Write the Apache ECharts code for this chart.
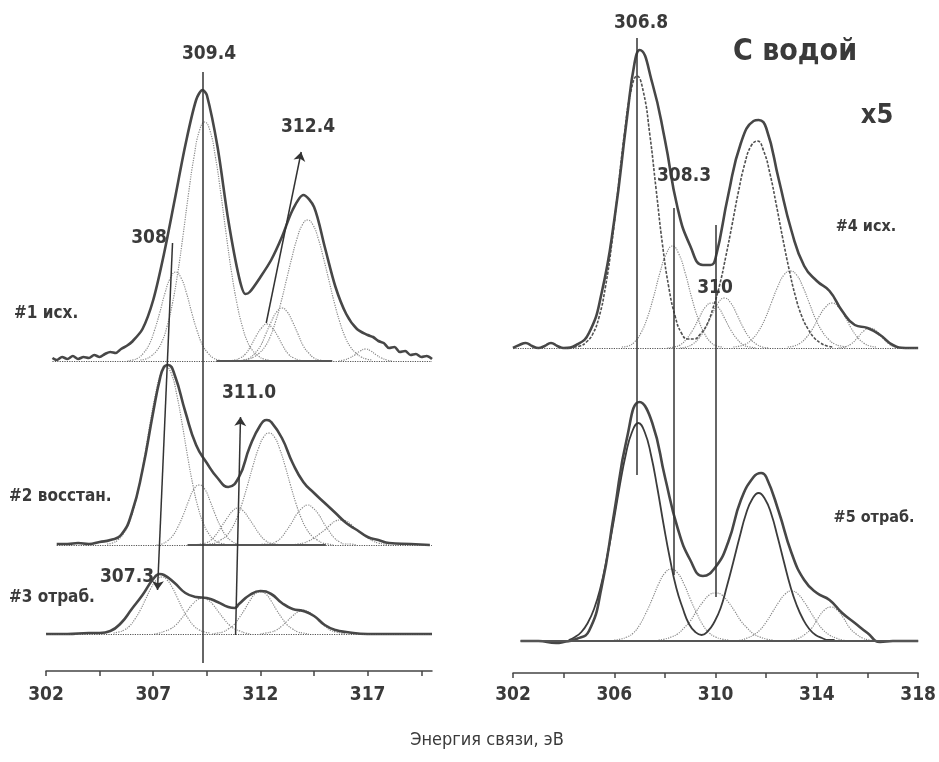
<!DOCTYPE html>
<html>
<head>
<meta charset="utf-8">
<script src="https://cdn.jsdelivr.net/npm/echarts@6/dist/echarts.min.js"></script>
<style>
  html, body { margin: 0; background: #fff; }
  #chart { width: 939px; height: 762px; }
</style>
</head>
<body>
<div id="chart"></div>
<script>
// binding energy, eV -> intensity above the spectrum's own baseline (arb. units)
const env1 = [[302.3,3],[302.5,1],[302.75,4],[303,2],[303.25,5],[303.5,2],[303.75,4],[304,3],[304.25,6],[304.5,4],[304.75,7],[305,9],[305.25,8],[305.5,12],[305.75,15],[306,19],[306.5,32],[307,61],[307.5,107],[308,161],[308.5,216],[309,261],[309.3,271],[309.5,266],[310,214],[310.5,141],[311,84],[311.3,67],[311.5,69],[312,84],[312.5,101],[313,124],[313.5,151],[314,166],[314.5,154],[315,114],[315.5,74],[316,47],[316.5,32],[317,26],[317.25,24],[317.5,20],[317.75,18],[318,13],[318.25,14],[318.5,9],[318.75,10],[319,6],[319.25,7],[319.5,4],[319.75,5],[320,2]];
const env2 = [[302.5,1],[303,1],[303.5,2],[304,1],[304.5,3],[305,5],[305.5,10],[306,32],[306.5,75],[307,133],[307.3,165],[307.5,178],[307.7,180],[308,170],[308.5,133],[309,100],[309.5,82],[310,67],[310.5,58],[311,68],[311.5,98],[312,120],[312.3,125],[312.5,123],[313,107],[313.5,82],[314,63],[314.5,52],[315,42],[315.5,32],[316,22],[316.5,15],[317,8],[317.5,5],[318,2],[319,1],[319.9,0]];
const env3 = [[302,0],[303,0],[304,1],[304.5,1],[305,3],[305.5,11],[306,25],[306.5,39],[307,55],[307.3,60],[307.5,59],[308,51],[308.5,41],[309,37],[309.5,36],[310,32],[310.5,27],[310.8,26],[311,30],[311.5,39],[312,43],[312.5,40],[313,31],[313.5,25],[314,23],[314.5,18],[315,9],[315.5,4],[316,2],[317,0],[320,0]];
const env4 = [[302,0],[302.25,3],[302.5,5],[302.75,2],[303,0],[303.25,2],[303.5,5],[303.75,2],[304,0],[304.5,3],[305,15],[305.5,55],[306,128],[306.5,230],[306.8,285],[307,298],[307.5,265],[308,208],[308.5,140],[309,102],[309.5,83],[309.8,83],[310,90],[310.5,153],[311,205],[311.5,227],[311.7,228],[312,220],[312.5,168],[313,117],[313.5,82],[314,67],[314.5,57],[315,37],[315.5,23],[316,20],[316.5,13],[317,3],[317.5,0],[318,0]];
const env5 = [[302.3,0],[303,0],[303.7,-2],[304,-1],[304.5,2],[305,10],[305.5,54],[306,129],[306.5,203],[307,239],[307.5,218],[308,164],[308.5,113],[309,81],[309.5,65],[310,74],[310.5,99],[311,141],[311.5,164],[311.8,168],[312,164],[312.5,129],[313,88],[313.5,61],[314,48],[314.5,41],[315,28],[315.5,18],[316,8],[316.5,-1],[317,0],[318,0]];

// fitted components: [first eV, intensities every 0.25 eV]
const STEP = 0.25;
const comp1 = [
  [305.8, [0,1,3,8,16,30,48,68,83,89,83,68,48,30,16,8,3,1,0]],
  [306.4, [1,2,5,10,19,35,58,89,127,168,204,230,239,230,204,168,127,89,58,35,19,10,5,2,1]],
  [310.55, [0,1,3,7,15,25,33,37,33,25,15,7,3,1,0]],
  [311.0, [0,1,3,8,15,27,39,49,53,49,39,27,15,8,3,1,0]],
  [311.2, [1,2,4,8,14,24,39,58,80,102,122,136,141,136,122,102,80,58,39,24,14,8,4,2,1]],
  [315.65, [0,1,3,6,10,12,10,6,3,1,0]]
];
const comp2 = [
  [304.85, [1,2,5,11,21,37,60,89,121,150,171,178,171,150,121,89,60,37,21,11,5,2,1]],
  [307.15, [0,1,4,9,18,30,44,56,60,56,44,30,18,9,4,1,0]],
  [308.95, [0,1,2,5,11,19,27,34,37,34,27,19,11,5,2,1,0]],
  [309.4, [0,1,2,5,9,16,27,42,60,79,96,108,112,108,96,79,60,42,27,16,9,5,2,1,0]],
  [311.95, [0,1,1,3,7,14,22,31,37,40,37,31,22,14,7,3,1,1,0]],
  [313.5, [0,1,2,4,7,11,15,20,24,25,24,20,15,11,7,4,2,1,0]]
];
const comp3 = [
  [305.15, [1,2,4,8,15,24,35,46,54,57,54,46,35,24,15,8,4,2,1]],
  [307.05, [0,1,3,5,9,15,22,29,34,36,34,29,22,15,9,5,3,1,0]],
  [309.75, [0,1,2,5,9,16,24,33,40,42,40,33,24,16,9,5,2,1,0]],
  [312.0, [0,1,2,4,8,13,18,22,24,22,18,13,8,4,2,1,0]]
];
const main4 = [304.4, [1,2,6,14,31,61,104,159,214,256,272,256,214,159,104,61,32,15,9,9,14,23,40,62,91,123,156,184,202,207,197,174,143,110,79,52,32,19,10,5,2,1]];
const comp4 = [
  [306.3, [1,2,6,15,30,51,75,94,102,94,75,51,30,15,6,2,1]],
  [308.1, [0,1,3,9,18,30,41,45,41,30,18,9,3,1,0]],
  [308.6, [0,1,4,10,20,33,45,50,45,33,20,10,4,1,0]],
  [310.7, [1,2,4,9,17,29,45,61,73,77,73,61,45,29,17,9,4,2,1]],
  [312.85, [1,2,5,11,20,32,41,45,41,32,20,11,5,2,1]],
  [314.85, [0,1,4,10,17,20,17,10,4,1,0]]
];
const main5 = [304.2, [1,4,9,18,32,53,82,116,153,186,209,218,209,186,153,116,82,53,33,17,9,6,10,19,33,55,79,104,127,142,148,142,127,104,79,55,36,22,12,6,3,1,1]];
const comp5 = [
  [306.0, [1,2,4,8,16,28,42,57,68,72,68,57,42,28,16,8,4,2,1]],
  [307.75, [1,2,4,7,13,20,30,39,46,48,46,39,30,20,13,7,4,2,1]],
  [310.75, [0,1,3,6,11,19,29,39,47,50,47,39,29,19,11,6,3,1,0]],
  [312.8, [0,1,3,7,13,23,31,34,31,23,13,7,3,1,0]]
];

// axis ticks and labels
const leftTicks = [302, 304.5, 307, 309.5, 312, 314.5, 317, 319.5];
const leftLabels = [302, 307, 312, 317];
const rightTicks = [302, 304, 306, 308, 310, 312, 314, 316, 318];
const rightLabels = [302, 306, 310, 314, 318];

// vertical offsets of the stacked spectra (layout)
const OFF = { s1: 310, s2: 126, s3: 37, s4: 325, s5: 32 };

const NARROW = "'Liberation Sans Narrow', 'Arial Narrow', 'DejaVu Sans Condensed', 'Liberation Sans', sans-serif";
const INK = '#3a3a3a';

function shift(pairs, off) {
  return pairs.map(p => [p[0], p[1] + off]);
}
function fromSteps(c, off) {
  return c[1].map((h, i) => [+(c[0] + i * STEP).toFixed(2), h + off]);
}
function line(grid, data, style, z, extra) {
  return Object.assign({
    type: 'line', xAxisIndex: grid, yAxisIndex: grid, data: data,
    smooth: true, showSymbol: false, silent: true, z: z,
    lineStyle: style
  }, extra || {});
}

const dotted = { color: '#8a8a8a', width: 1.2, type: 'dotted' };
const envStyle = { color: '#474747', width: 2.6 };

function baseLine(x1, x2, y, type, w) {
  return [{ coord: [x1, y], lineStyle: { type: type, width: w, color: '#555' } }, { coord: [x2, y] }];
}

const series = [];
comp1.forEach(c => series.push(line(0, fromSteps(c, OFF.s1), dotted, 2)));
comp2.forEach(c => series.push(line(0, fromSteps(c, OFF.s2), dotted, 2)));
comp3.forEach(c => series.push(line(0, fromSteps(c, OFF.s3), dotted, 2)));
comp4.forEach(c => series.push(line(1, fromSteps(c, OFF.s4), dotted, 2)));
comp5.forEach(c => series.push(line(1, fromSteps(c, OFF.s5), dotted, 2)));
series.push(line(1, fromSteps(main4, OFF.s4), { color: '#505050', width: 1.6, type: [3, 1.5] }, 3));
series.push(line(1, fromSteps(main5, OFF.s5), { color: '#3c3c3c', width: 1.8 }, 3));

series.push(line(0, shift(env1, OFF.s1), envStyle, 4, { smooth: 0.3 }));
series.push(line(0, shift(env2, OFF.s2), envStyle, 4));
series.push(line(0, shift(env3, OFF.s3), envStyle, 4));
series.push(line(1, shift(env4, OFF.s4), envStyle, 4));
series.push(line(1, shift(env5, OFF.s5), envStyle, 4));

const mlCommon = { silent: true, symbol: ['none', 'none'], symbolSize: 9, label: { show: false },
  lineStyle: { color: '#333', width: 1.5, type: 'solid' }, emphasis: { disabled: true }, animation: false };
const arrowEnd = (x, y) => ({ coord: [x, y], symbol: 'arrow' });

// baselines and guide lines, left panel
series.push({
  type: 'line', xAxisIndex: 0, yAxisIndex: 0, data: [], z: 5,
  markLine: Object.assign({}, mlCommon, {
    data: [
      baseLine(302.3, 320, OFF.s1, 'dotted', 1.2),
      baseLine(309.95, 315.35, OFF.s1, 'solid', 2),
      baseLine(302.5, 320, OFF.s2, 'dotted', 1.2),
      baseLine(308.6, 315.05, OFF.s2, 'solid', 2),
      baseLine(302, 320, OFF.s3, 'dotted', 1.2),
      [{ coord: [309.3, 599] }, { coord: [309.3, 8] }],
      [{ coord: [307.9, 428] }, arrowEnd(307.2, 81)],
      [{ coord: [312.27, 348] }, arrowEnd(313.9, 519)],
      [{ coord: [310.84, 36] }, arrowEnd(311.07, 254)]
    ]
  })
});
// baselines and guide lines, right panel
series.push({
  type: 'line', xAxisIndex: 1, yAxisIndex: 1, data: [], z: 5,
  markLine: Object.assign({}, mlCommon, {
    data: [
      baseLine(302, 318, OFF.s4, 'dotted', 1.2),
      baseLine(302.3, 318, OFF.s5, 'solid', 2),
      [{ coord: [306.9, 635] }, { coord: [306.9, 198] }],
      [{ coord: [308.34, 465] }, { coord: [308.34, 98] }],
      [{ coord: [310.02, 448] }, { coord: [310.02, 76] }]
    ]
  })
});

function xAxis(grid, max, ticks, labels, margin) {
  return {
    gridIndex: grid, type: 'value', min: 302, max: max,
    axisLine: { lineStyle: { color: '#444', width: 1.5 } },
    axisTick: { customValues: ticks, length: 5, lineStyle: { color: '#444', width: 1.5 } },
    axisLabel: { customValues: labels, margin: margin, color: INK, fontFamily: NARROW, fontWeight: 'bold', fontSize: 19 },
    splitLine: { show: false }
  };
}
function yAxis(grid, max) {
  return { gridIndex: grid, type: 'value', min: 0, max: max, show: false };
}

function txt(text, x, y, size, weight, align) {
  return {
    type: 'text', x: x, y: y, silent: true, z: 10,
    style: { text: text, fill: INK, align: align || 'center', verticalAlign: 'middle',
      font: (weight || 'bold') + ' ' + size + 'px ' + NARROW }
  };
}

const chart = echarts.init(document.getElementById('chart'));
chart.setOption({
  animation: false,
  backgroundColor: '#fff',
  grid: [
    { left: 46, right: 507, top: 0, bottom: 91 },
    { left: 513, right: 13, top: 0, bottom: 89 }
  ],
  xAxis: [xAxis(0, 320, leftTicks, leftLabels, 15), xAxis(1, 318, rightTicks, rightLabels, 13)],
  yAxis: [yAxis(0, 671), yAxis(1, 673)],
  series: series,
  graphic: [
    txt('309.4', 209, 54, 19),
    txt('312.4', 308, 127, 19),
    txt('308', 149, 238, 19),
    txt('311.0', 249, 393, 19),
    txt('307.3', 127, 577, 19),
    txt('306.8', 641, 23, 19),
    txt('308.3', 684, 176, 19),
    txt('310', 715, 288, 19),
    txt('С водой', 795, 52, 30),
    txt('x5', 877, 116, 27),
    txt('#1 исх.', 14, 314, 17, 'bold', 'left'),
    txt('#2 восстан.', 9, 497, 17, 'bold', 'left'),
    txt('#3 отраб.', 9, 598, 17, 'bold', 'left'),
    txt('#4 исх.', 866, 227, 16),
    txt('#5 отраб.', 874, 518, 16),
    txt('Энергия связи, эВ', 487, 740, 18, 'normal')
  ]
});
</script>
</body>
</html>
